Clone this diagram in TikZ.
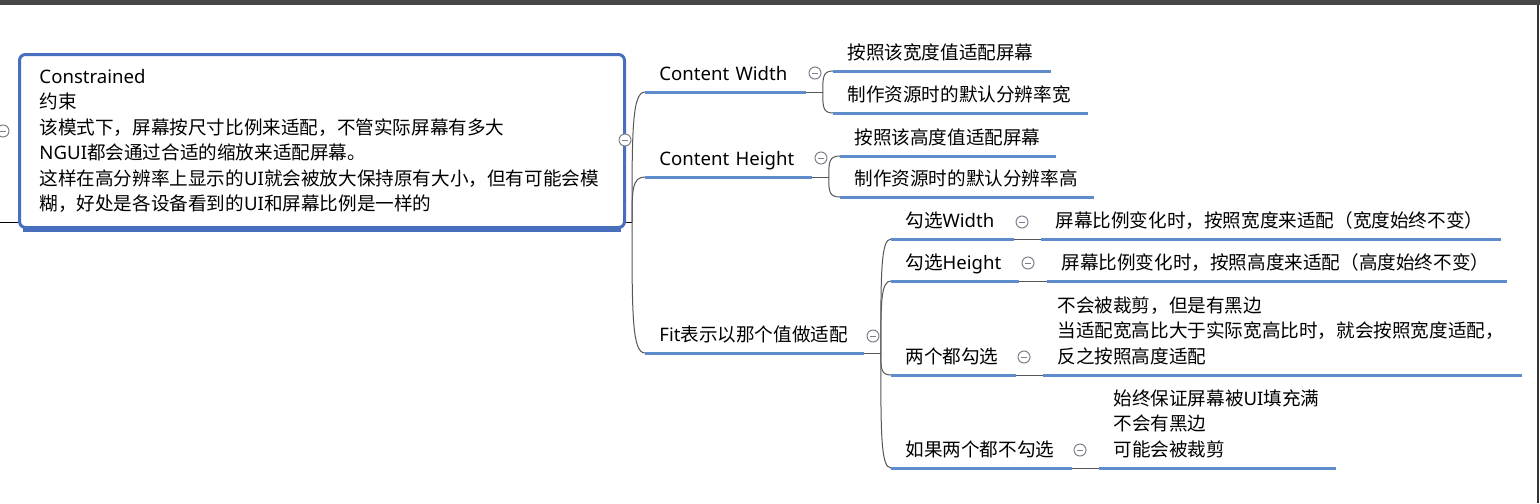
\documentclass[tikz,border=0pt]{standalone}
\usepackage{fontspec}
\setmainfont{Noto Sans CJK SC}
\newfontfamily\lat{Noto Sans}
\usepackage{xcolor}
\usepackage{tikz}
\usetikzlibrary{calc}
\definecolor{rootblue}{RGB}{72,110,190}
\definecolor{lineblue}{RGB}{95,140,205}
\definecolor{conngray}{RGB}{85,85,90}
\definecolor{foldgray}{RGB}{125,128,140}
\tikzset{
  rootbox/.style={draw=rootblue,line width=1.5pt,rounded corners=3pt,fill=white,anchor=north west,
                  inner xsep=10pt,align=left,font=\fontsize{9.3}{12.7}\selectfont},
  topic/.style  ={anchor=south west,inner xsep=7pt,inner ysep=5.5pt,text depth=0pt,align=left,
                  font=\fontsize{9.3}{12.9}\selectfont},
  threelines/.style={text depth=25.8pt},
  uline/.style  ={lineblue,line width=1.5pt},
  conn/.style   ={conngray,line width=0.5pt},
  fold/.style   ={circle,draw=foldgray,fill=white,line width=0.5pt,minimum size=6pt,inner sep=0pt,
                  path picture={\draw[foldgray,line width=0.5pt]
                    ([xshift=-1.6pt]path picture bounding box.center)--([xshift=1.6pt]path picture bounding box.center);}},
  branch/.style ={to path={.. controls ($(\tikztostart)!0.7!(\tikztostart |- \tikztotarget)$)
                   and (\tikztostart |- \tikztotarget) .. (\tikztotarget)}},
}

\begin{document}
\begin{tikzpicture}[x=0.5pt,y=-0.5pt]
  \useasboundingbox (0,0) rectangle (1540,503);
  \fill[white] (0,0) rectangle (1540,503);
  \fill[black!72] (0,0) rectangle (1540,5);
  \draw[black!80,line width=1pt] (1538,5) -- (1538,503);
  % root topic
  \node[rootbox,text width=282.5pt,minimum height=86.5pt](root) at (18,53){{\lat Constrained}\\约束\\
    该模式下，屏幕按尺寸比例来适配，不管实际屏幕有多大\\{\lat NGUI}都会通过合适的缩放来适配屏幕。\\
    这样在高分辨率上显示的{\lat UI}就会被放大保持原有大小，但有可能会模\\糊，好处是各设备看到的{\lat UI}和屏幕比例是一样的};
  \draw[rootblue,line width=2.5pt] ([xshift=2.5pt]root.south west)--([xshift=-2.5pt]root.south east);
  % first level
  \node[topic,text width=66pt](cw) at (645,92){{\lat Content~Width}};
  \node[topic,text width=69pt](ch) at (645,177){{\lat Content~Height}};
  \node[topic,text width=95pt](fit) at (645,353){{\lat Fit}表示以那个值做适配};
  % second level
  \node[topic,text width=94.5pt](cw1) at (833,71){按照该宽度值适配屏幕};
  \node[topic,text width=113pt](cw2) at (833,113){制作资源时的默认分辨率宽};
  \node[topic,text width=93.5pt](ch1) at (840,156){按照该高度值适配屏幕};
  \node[topic,text width=112.5pt](ch2) at (840,197){制作资源时的默认分辨率高};
  \node[topic,text width=47pt](fw) at (891,239){勾选{\lat Width}};
  \node[topic,text width=49.5pt](fh) at (891,281){勾选{\lat Height}};
  \node[topic,text width=48pt](fb) at (891,375){两个都勾选};
  \node[topic,text width=76pt](fn) at (891,468){如果两个都不勾选};
  % third level
  \node[topic,text width=215.5pt](fw1) at (1041,239){屏幕比例变化时，按照宽度来适配（宽度始终不变）};
  \node[topic,text width=215.5pt](fh1) at (1047,281){屏幕比例变化时，按照高度来适配（高度始终不变）};
  \node[topic,threelines,text width=225pt](fb1) at (1043,375){不会被裁剪，但是有黑边\\当适配宽高比大于实际宽高比时，就会按照宽度适配，\\反之按照高度适配};
  \node[topic,threelines,text width=104pt](fn1) at (1099,468){始终保证屏幕被{\lat UI}填充满\\不会有黑边\\可能会被裁剪};
  % connectors
  \coordinate (lj) at (0,222);  \coordinate (rj) at (632,222);
  \coordinate (cwj) at ($(cw.south east)+(17,0)$);
  \coordinate (chj) at ($(ch.south east)+(17,0)$);
  \coordinate (fitj) at ($(fit.south east)+(17,0)$);
  \draw[conn,black](lj)--(lj -| root.west);
  \draw[conn,black](rj -| root.east)--(rj);
  \foreach \n in {cw,ch,fit}{\draw[conn](rj) to[branch] (\n.south west); \draw[conn](\n.south east)--(\n j);}
  \foreach \n in {cw1,cw2}{\draw[conn](cwj) to[branch] (\n.south west);}
  \foreach \n in {ch1,ch2}{\draw[conn](chj) to[branch] (\n.south west);}
  \foreach \n in {fw,fh,fb,fn}{\draw[conn](fitj) to[branch] (\n.south west); \draw[conn](\n.south east)--(\n1.south west);}
  \foreach \n in {cw,cw1,cw2,ch,ch1,ch2,fit,fw,fw1,fh,fh1,fb,fb1,fn,fn1}{\draw[uline](\n.south west)--(\n.south east);}
  % fold marks
  \node[fold](fleft) at (3,131){};     \node[fold](froot) at (625,140){};
  \node[fold](fcw) at (815,73){};      \node[fold](fch) at (821,158){};
  \node[fold](ffit) at (873,336){};
  \node[fold](ffw) at (1022,222){};    \node[fold](ffh) at (1028,263){};
  \node[fold](ffb) at (1024,357){};    \node[fold](ffn) at (1080,450){};
\end{tikzpicture}
\end{document}
